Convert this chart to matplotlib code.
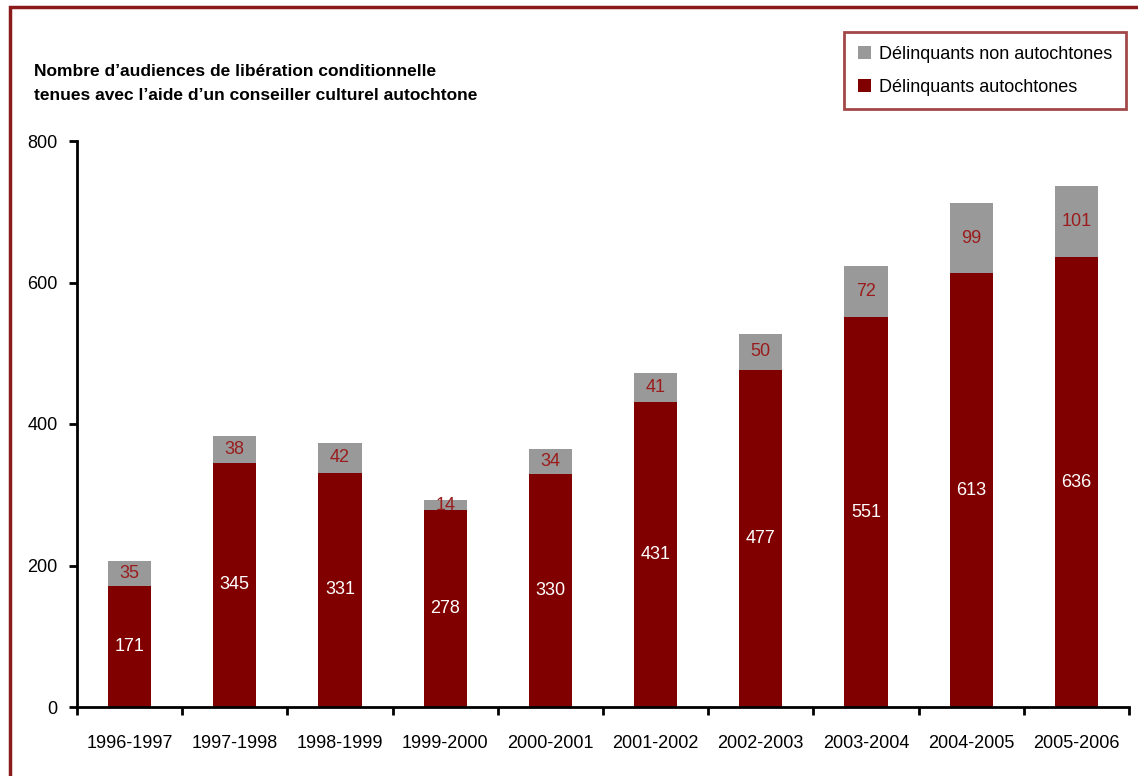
import matplotlib
matplotlib.use("Agg")
import matplotlib.pyplot as plt
from matplotlib.patches import Rectangle
import numpy as np

categories = ["1996-1997", "1997-1998", "1998-1999", "1999-2000", "2000-2001",
              "2001-2002", "2002-2003", "2003-2004", "2004-2005", "2005-2006"]
autochtones = [171, 345, 331, 278, 330, 431, 477, 551, 613, 636]
non_autochtones = [35, 38, 42, 14, 34, 41, 50, 72, 99, 101]
yticks = [0, 200, 400, 600, 800]

plt.rcParams['font.family'] = ['Liberation Sans', 'DejaVu Sans']

RED = "#800000"
GREY = "#999999"
FRAME = "#8B1A1A"
FS = 13

fig = plt.figure(figsize=(11.38, 7.76), dpi=100)
ax = fig.add_axes([77/1138, 1-707/776, (1129-77)/1138, (707-141)/776])

x = np.arange(len(categories))
w = 0.41
b1 = ax.bar(x, autochtones, w, color=RED, label="Délinquants autochtones", zorder=2)
b2 = ax.bar(x, non_autochtones, w, bottom=autochtones, color=GREY,
            label="Délinquants non autochtones", zorder=2)

for i in range(len(x)):
    ax.text(x[i], autochtones[i]/2, str(autochtones[i]), ha='center', va='center',
            color='white', fontsize=FS)
    ax.text(x[i], autochtones[i] + non_autochtones[i]/2, str(non_autochtones[i]),
            ha='center', va='center', color="#9B1C1C", fontsize=FS)

ax.set_xlim(-0.5, len(categories) - 0.5)
ax.set_ylim(0, 800)
ax.set_yticks(yticks)
ax.set_yticklabels([str(v) for v in yticks], fontsize=FS)
ax.set_xticks(x)
ax.set_xticklabels(categories, fontsize=FS)
ax.set_xticks(np.arange(len(categories) + 1) - 0.5, minor=True)
ax.tick_params(axis='x', which='major', length=0, pad=20)
ax.tick_params(axis='x', which='minor', length=6, width=2, direction='out')
ax.tick_params(axis='y', length=6, width=2, direction='out', pad=8)
for s in ['top', 'right']:
    ax.spines[s].set_visible(False)
for s in ['left', 'bottom']:
    ax.spines[s].set_linewidth(2)

fig.text(34/1138, 1-72/776, "Nombre d\u2019audiences de libération conditionnelle",
         fontsize=12.5, fontweight='bold', va='center', ha='left')
fig.text(34/1138, 1-95/776, "tenues avec l\u2019aide d\u2019un conseiller culturel autochtone",
         fontsize=12.5, fontweight='bold', va='center', ha='left')

handles = [b2, b1]
leg = fig.legend(handles, [h.get_label() for h in handles], loc='upper right',
                 bbox_to_anchor=(1126/1138, 1-32/776), fontsize=FS, frameon=True,
                 fancybox=False, handlelength=0.75, handleheight=0.75,
                 handletextpad=0.45, borderpad=0.75, labelspacing=0.9,
                 borderaxespad=0)
leg.get_frame().set_edgecolor(FRAME)
leg.get_frame().set_linewidth(2)

fig.patches.append(Rectangle((10/1138, -0.1), 1.2, 1 - 7/776 + 0.1,
                             transform=fig.transFigure, fill=False,
                             edgecolor=FRAME, linewidth=2.5))

fig.savefig("out.png", dpi=100)
